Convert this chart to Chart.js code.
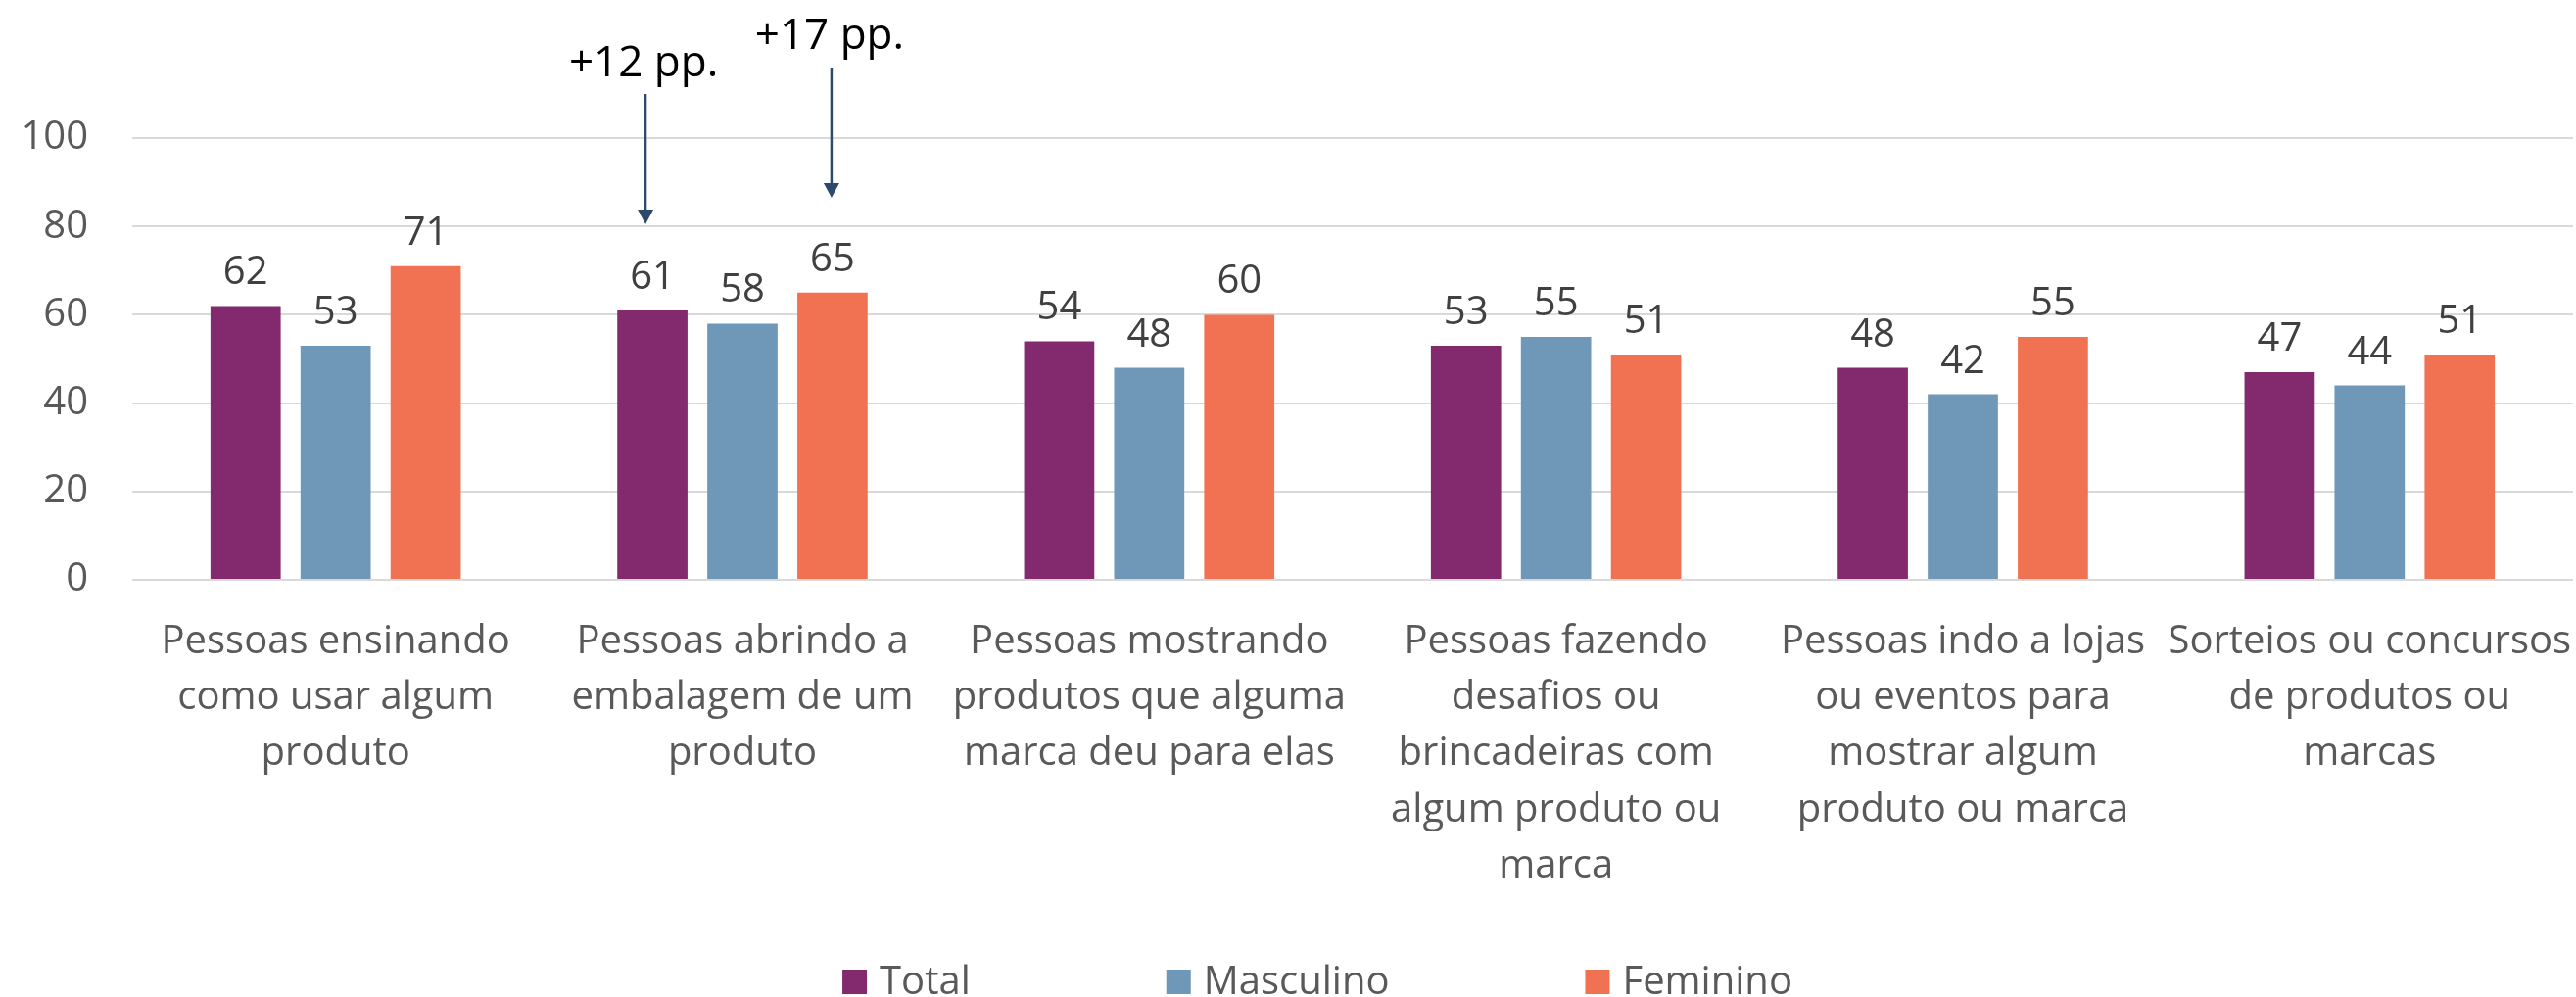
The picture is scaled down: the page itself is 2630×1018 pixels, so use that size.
<!DOCTYPE html>
<html>
<head>
<meta charset="utf-8">
<script src="https://cdn.jsdelivr.net/npm/chart.js@4.4.1/dist/chart.umd.min.js"></script>
<style>
  body { margin: 0; background: #fff; }
</style>
</head>
<body>
<canvas id="results-chart" width="2630" height="1018"></canvas>
<script>
// chart data
let categories = [
  ["Pessoas ensinando", "como usar algum", "produto"],
  ["Pessoas abrindo a", "embalagem de um", "produto"],
  ["Pessoas mostrando", "produtos que alguma", "marca deu para elas"],
  ["Pessoas fazendo", "desafios ou", "brincadeiras com", "algum produto ou", "marca"],
  ["Pessoas indo a lojas", "ou eventos para", "mostrar algum", "produto ou marca"],
  ["Sorteios ou concursos", "de produtos ou", "marcas"],
];
let seriesNames = ["Total", "Masculino", "Feminino"];
let totalValues = [62, 61, 54, 53, 48, 47];
let masculinoValues = [53, 58, 48, 55, 42, 44];
let femininoValues = [71, 65, 60, 51, 55, 51];
let yTicks = [0, 20, 40, 60, 80, 100];

// callouts over the 2nd group (series index, category index, text)
let callouts = [
  { series: 0, index: 1, text: "+12 pp." },
  { series: 2, index: 1, text: "+17 pp." },
];
// where each callout sits (pixels)
let calloutPos = [
  { dx: -7, textY: 78, lineTop: 96, tipY: 229 },
  { dx: -1, textY: 50, lineTop: 69, tipY: 202 },
];

let colors = ["#832A6F", "#6F97B8", "#F17253"];
let fontFamily = "'Open Sans', sans-serif";
Chart.defaults.font.family = fontFamily;
Chart.defaults.font.size = 40;

// numbers over the bars
const valueLabels = {
  id: "valueLabels",
  afterDatasetsDraw(chart) {
    const c = chart.ctx;
    c.save();
    c.font = "40px " + fontFamily;
    c.fillStyle = "#404040";
    c.textAlign = "center";
    c.textBaseline = "alphabetic";
    chart.data.datasets.forEach((ds, i) => {
      chart.getDatasetMeta(i).data.forEach((bar, j) => {
        c.fillText(ds.data[j], bar.x, bar.y - 22);
      });
    });
    c.restore();
  },
};

// arrows with the pp. notes
const arrowNotes = {
  id: "arrowNotes",
  afterDraw(chart) {
    const c = chart.ctx;
    c.save();
    callouts.forEach((note, k) => {
      const pos = calloutPos[k];
      const bar = chart.getDatasetMeta(note.series).data[note.index];
      const x = bar.x + pos.dx;
      c.fillStyle = "#000";
      c.font = "44px " + fontFamily;
      c.textAlign = "center";
      c.fillText(note.text, x - 2, pos.textY);
      c.strokeStyle = "#2E4A6B";
      c.fillStyle = "#2E4A6B";
      c.lineWidth = 2.5;
      c.beginPath();
      c.moveTo(x, pos.lineTop);
      c.lineTo(x, pos.tipY - 12);
      c.stroke();
      c.beginPath();
      c.moveTo(x - 8, pos.tipY - 15);
      c.lineTo(x + 8, pos.tipY - 15);
      c.lineTo(x, pos.tipY);
      c.closePath();
      c.fill();
    });
    c.restore();
  },
};

// legend along the bottom
const bottomLegend = {
  id: "bottomLegend",
  afterDraw(chart) {
    const c = chart.ctx;
    c.save();
    c.font = "40px " + fontFamily;
    c.textBaseline = "alphabetic";
    const boxSize = 25;
    const boxGap = 13;
    const itemGap = 200;
    const sets = chart.data.datasets;
    const widths = sets.map((ds) => boxSize + boxGap + c.measureText(ds.label).width);
    const total = widths.reduce((a, b) => a + b, 0) + itemGap * (sets.length - 1);
    let x = 1345 - total / 2;
    sets.forEach((ds, i) => {
      c.fillStyle = ds.backgroundColor;
      c.fillRect(x, 990, boxSize, boxSize);
      c.fillStyle = "#595959";
      c.fillText(ds.label, x + boxSize + boxGap, 1015);
      x += widths[i] + itemGap;
    });
    c.restore();
  },
};

let ctx = document.getElementById("results-chart");
new Chart(ctx, {
  type: "bar",
  data: {
    labels: categories,
    datasets: [
      { label: seriesNames[0], data: totalValues, backgroundColor: colors[0] },
      { label: seriesNames[1], data: masculinoValues, backgroundColor: colors[1] },
      { label: seriesNames[2], data: femininoValues, backgroundColor: colors[2] },
    ],
  },
  options: {
    responsive: false,
    animation: false,
    devicePixelRatio: 1,
    layout: { padding: { top: 141, right: 3, bottom: 96, left: 0 } },
    datasets: {
      bar: { categoryPercentage: 0.664, barPercentage: 0.78 },
    },
    plugins: {
      legend: { display: false },
      tooltip: { enabled: false },
    },
    scales: {
      x: {
        grid: { display: false, drawTicks: false },
        border: { display: false },
        ticks: {
          color: "#595959",
          padding: 35,
          maxRotation: 0,
          autoSkip: false,
          font: { size: 40, lineHeight: 1.43 },
        },
        afterFit: (s) => {
          s.height = 330;
          s.paddingLeft = 0;
          s.paddingRight = 0;
        },
      },
      y: {
        min: 0,
        max: 100,
        grid: { color: "#D9D9D9", lineWidth: 2, drawTicks: false },
        border: { display: false },
        ticks: { color: "#595959", padding: 45, font: { size: 40 } },
        afterBuildTicks: (s) => { s.ticks = yTicks.map((v) => ({ value: v })); },
        afterFit: (s) => { s.width = 135; },
      },
    },
  },
  plugins: [valueLabels, arrowNotes, bottomLegend],
});
</script>
</body>
</html>
